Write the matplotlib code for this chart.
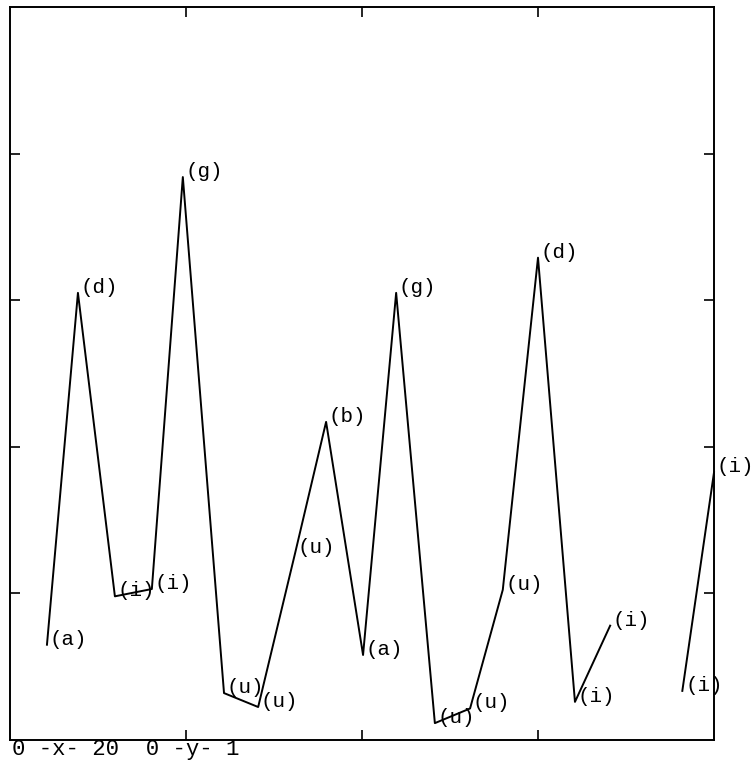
import numpy as np
import matplotlib
matplotlib.use("Agg")
import matplotlib.pyplot as plt

# Data
x_vals = [1.05, 1.93, 2.98, 4.03, 4.91, 6.08, 7.05, 8.10, 8.98, 10.03,
          10.97, 12.07, 13.07, 14.0, 15.0, 16.05, 17.05, 18.0, 19.1, 20.0]
y_vals = [0.130, 0.610, 0.196, 0.206, 0.768, 0.064, 0.045, 0.255, 0.434, 0.116,
          0.610, 0.023, 0.043, 0.205, 0.658, 0.052, 0.156, np.nan, 0.067, 0.365]
labels = ["(a)", "(d)", "(i)", "(i)", "(g)", "(u)", "(u)", "(u)", "(b)", "(a)",
          "(g)", "(u)", "(u)", "(u)", "(d)", "(i)", "(i)", "", "(i)", "(i)"]
x_range = (0, 20)
y_range = (0, 1)
x_ticks = [5, 10, 15]
y_ticks = [0.2, 0.4, 0.6, 0.8]
range_text = "0 -x- 20  0 -y- 1"

W, H = 753, 761
fig = plt.figure(figsize=(W / 100, H / 100), dpi=100)
ax = fig.add_axes([10 / W, 21 / H, 704 / W, 733 / H])

ax.plot(x_vals, y_vals, color="black", lw=1.4, clip_on=False)

font = "Liberation Mono"
for xv, yv, lab in zip(x_vals, y_vals, labels):
    if lab and not np.isnan(yv):
        ax.annotate(lab, (xv, yv), xytext=(2, 4), textcoords="offset points",
                    ha="left", va="center", fontsize=15, family=font,
                    annotation_clip=False)

ax.set_xlim(*x_range)
ax.set_ylim(*y_range)
ax.set_xticks(x_ticks)
ax.set_yticks(y_ticks)
ax.tick_params(direction="in", length=7, width=1.2, top=True, right=True,
               labelbottom=False, labelleft=False)
for s in ax.spines.values():
    s.set_linewidth(1.4)

fig.text(12 / W, (H - 749) / H, range_text, ha="left", va="center",
         fontsize=16, family=font)

fig.savefig("out.png", dpi=100)
